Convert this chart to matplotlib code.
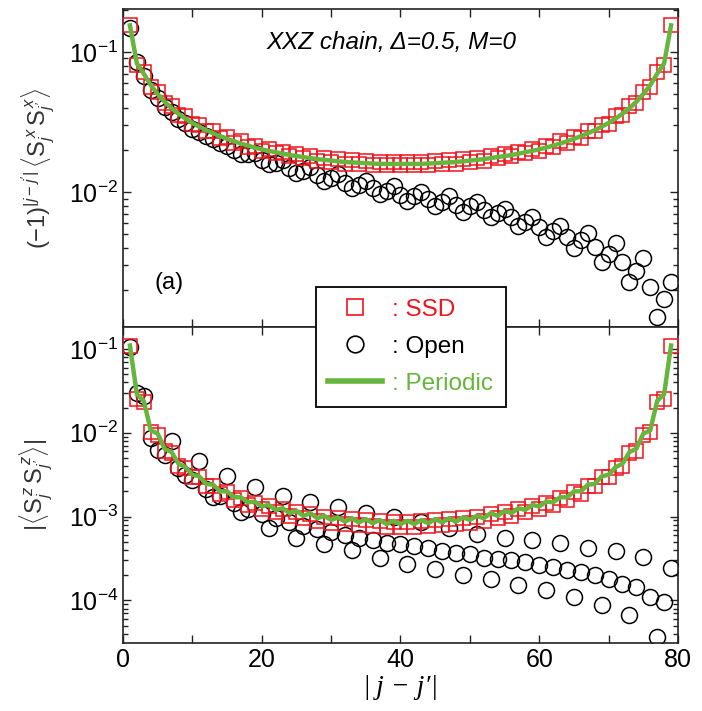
import matplotlib
matplotlib.use("Agg")
import matplotlib.pyplot as plt
from matplotlib.lines import Line2D
from matplotlib.ticker import LogLocator, MultipleLocator, NullFormatter

plt.rcParams["font.family"] = ["Liberation Sans", "DejaVu Sans"]
plt.rcParams["mathtext.fontset"] = "custom"
plt.rcParams["mathtext.rm"] = "Liberation Sans"
plt.rcParams["mathtext.it"] = "Liberation Sans:italic"

# distance |j - j'| on an L = 80 chain
r = list(range(1, 80))

# (-1)^|j-j'| <Sx_j Sx_j'>
sx_periodic = [0.155, 0.083, 0.0700, 0.0580, 0.0501, 0.0442, 0.0397, 0.0363, 0.0335, 0.0312,
               0.0293, 0.0277, 0.0263, 0.0251, 0.0240, 0.0231, 0.0222, 0.0215, 0.0208, 0.0202,
               0.0197, 0.0193, 0.0188, 0.0184, 0.0181, 0.0178, 0.0175, 0.0172, 0.0170, 0.0168,
               0.0166, 0.0164, 0.0163, 0.0162, 0.0161, 0.0160, 0.0159, 0.0159, 0.0159, 0.0159,
               0.0159, 0.0159, 0.0159, 0.0160, 0.0161, 0.0162, 0.0163, 0.0164, 0.0166, 0.0168,
               0.0170, 0.0172, 0.0175, 0.0178, 0.0181, 0.0184, 0.0188, 0.0193, 0.0197, 0.0202,
               0.0208, 0.0215, 0.0222, 0.0231, 0.0240, 0.0251, 0.0263, 0.0277, 0.0293, 0.0312,
               0.0335, 0.0363, 0.0397, 0.0442, 0.0501, 0.0580, 0.0700, 0.083, 0.155]
sx_ssd = [0.155, 0.081, 0.0725, 0.0567, 0.0519, 0.0432, 0.0411, 0.0355, 0.0347, 0.0305,
          0.0303, 0.0271, 0.0272, 0.0245, 0.0248, 0.0226, 0.0230, 0.0210, 0.0215, 0.0197,
          0.0204, 0.0189, 0.0195, 0.0180, 0.0187, 0.0174, 0.0181, 0.0168, 0.0176, 0.0164,
          0.0172, 0.0160, 0.0169, 0.0158, 0.0167, 0.0156, 0.0165, 0.0155, 0.0165, 0.0155,
          0.0165, 0.0155, 0.0165, 0.0156, 0.0167, 0.0158, 0.0169, 0.0160, 0.0172, 0.0164,
          0.0176, 0.0168, 0.0181, 0.0174, 0.0187, 0.0180, 0.0195, 0.0189, 0.0204, 0.0197,
          0.0215, 0.0210, 0.0230, 0.0226, 0.0248, 0.0245, 0.0272, 0.0271, 0.0303, 0.0305,
          0.0347, 0.0355, 0.0411, 0.0432, 0.0519, 0.0567, 0.0725, 0.081, 0.155]
sx_open = [0.148, 0.0851, 0.0676, 0.0537, 0.0468, 0.0407, 0.0372, 0.0331, 0.0309, 0.0282,
           0.0269, 0.0251, 0.0240, 0.0224, 0.0214, 0.0200, 0.0186, 0.0186, 0.0191, 0.0170,
           0.0158, 0.0162, 0.0170, 0.0148, 0.0138, 0.0141, 0.0151, 0.0132, 0.0120, 0.0126,
           0.0135, 0.0117, 0.0107, 0.0112, 0.0120, 0.0107, 9.77e-3, 1.02e-2, 1.10e-2, 9.55e-3,
           8.71e-3, 9.33e-3, 1.00e-2, 8.91e-3, 7.94e-3, 8.51e-3, 9.33e-3, 8.13e-3, 7.24e-3, 7.94e-3,
           8.51e-3, 7.41e-3, 6.61e-3, 7.08e-3, 7.59e-3, 6.61e-3, 5.75e-3, 6.17e-3, 6.61e-3, 5.62e-3,
           4.79e-3, 5.25e-3, 5.75e-3, 4.79e-3, 3.98e-3, 4.57e-3, 5.13e-3, 4.07e-3, 3.16e-3, 3.63e-3,
           4.37e-3, 3.16e-3, 2.29e-3, 2.75e-3, 3.39e-3, 2.09e-3, 1.29e-3, 1.74e-3, 2.29e-3]

# |<Sz_j Sz_j'>|
sz_periodic = [0.110, 0.0288, 0.0240, 0.0107, 9.77e-3, 6.46e-3, 5.89e-3, 4.27e-3, 3.89e-3, 3.16e-3,
               3.02e-3, 2.45e-3, 2.40e-3, 2.00e-3, 2.00e-3, 1.70e-3, 1.70e-3, 1.48e-3, 1.51e-3, 1.32e-3,
               1.38e-3, 1.20e-3, 1.26e-3, 1.10e-3, 1.17e-3, 1.02e-3, 1.10e-3, 9.55e-4, 1.02e-3, 9.12e-4,
               9.77e-4, 8.71e-4, 9.55e-4, 8.51e-4, 9.33e-4, 8.32e-4, 9.12e-4, 8.13e-4, 8.91e-4, 8.13e-4,
               8.91e-4, 8.13e-4, 9.12e-4, 8.32e-4, 9.33e-4, 8.51e-4, 9.55e-4, 8.71e-4, 9.77e-4, 9.12e-4,
               1.02e-3, 9.55e-4, 1.10e-3, 1.02e-3, 1.17e-3, 1.10e-3, 1.26e-3, 1.20e-3, 1.38e-3, 1.32e-3,
               1.51e-3, 1.48e-3, 1.70e-3, 1.70e-3, 2.00e-3, 2.00e-3, 2.40e-3, 2.45e-3, 3.02e-3, 3.16e-3,
               3.89e-3, 4.27e-3, 5.89e-3, 6.46e-3, 9.77e-3, 0.0107, 0.0240, 0.0288, 0.110]
sz_ssd = [0.109, 0.0250, 0.0234, 0.0103, 9.5e-3, 6.1e-3, 5.75e-3, 4.0e-3, 3.8e-3, 2.95e-3,
          2.95e-3, 2.29e-3, 2.34e-3, 1.87e-3, 1.95e-3, 1.59e-3, 1.66e-3, 1.38e-3, 1.47e-3, 1.23e-3,
          1.35e-3, 1.12e-3, 1.23e-3, 1.03e-3, 1.14e-3, 9.5e-4, 1.07e-3, 8.9e-4, 1.00e-3, 8.5e-4,
          9.5e-4, 8.1e-4, 9.3e-4, 7.9e-4, 9.1e-4, 7.8e-4, 8.9e-4, 7.6e-4, 8.7e-4, 7.6e-4,
          8.7e-4, 7.6e-4, 8.9e-4, 7.8e-4, 9.1e-4, 7.9e-4, 9.3e-4, 8.1e-4, 9.5e-4, 8.5e-4,
          1.00e-3, 8.9e-4, 1.07e-3, 9.5e-4, 1.14e-3, 1.03e-3, 1.23e-3, 1.12e-3, 1.35e-3, 1.23e-3,
          1.47e-3, 1.38e-3, 1.66e-3, 1.59e-3, 1.95e-3, 1.87e-3, 2.34e-3, 2.29e-3, 2.95e-3, 2.95e-3,
          3.8e-3, 4.0e-3, 5.75e-3, 6.1e-3, 9.5e-3, 0.0103, 0.0234, 0.0250, 0.109]
sz_open = [0.105, 0.0302, 0.0275, 8.71e-3, 6.31e-3, 5.50e-3, 7.94e-3, 3.80e-3, 3.16e-3, 2.75e-3,
           4.57e-3, 2.14e-3, 1.70e-3, 1.74e-3, 3.09e-3, 1.45e-3, 1.12e-3, 1.23e-3, 2.24e-3, 1.07e-3,
           7.41e-4, 9.55e-4, 1.78e-3, 8.51e-4, 5.62e-4, 7.76e-4, 1.48e-3, 7.08e-4, 4.68e-4, 6.46e-4,
           1.29e-3, 6.03e-4, 3.98e-4, 5.62e-4, 1.10e-3, 5.25e-4, 3.24e-4, 4.90e-4, 9.77e-4, 4.68e-4,
           2.75e-4, 4.47e-4, 8.51e-4, 4.27e-4, 2.40e-4, 3.89e-4, 7.24e-4, 3.63e-4, 2.00e-4, 3.55e-4,
           6.17e-4, 3.24e-4, 1.82e-4, 3.16e-4, 5.62e-4, 3.02e-4, 1.51e-4, 2.88e-4, 5.25e-4, 2.63e-4,
           1.32e-4, 2.51e-4, 4.90e-4, 2.29e-4, 1.10e-4, 2.19e-4, 4.27e-4, 2.00e-4, 8.71e-5, 1.82e-4,
           3.89e-4, 1.58e-4, 6.61e-5, 1.45e-4, 3.31e-4, 1.10e-4, 3.63e-5, 9.55e-5, 2.45e-4]

RED = "#f0141e"
GREEN = "#66b53c"

fig = plt.figure(figsize=(7.02, 7.11), dpi=100)
ax_top = fig.add_axes([0.1752, 0.5401, 0.7906, 0.4473])
ax_bot = fig.add_axes([0.1752, 0.0956, 0.7906, 0.4445])


def draw_panel(ax, ssd, opn, per):
    ax.plot(r, opn, ls="none", marker="o", ms=11.5, mfc="none", mec="black", mew=1.1, zorder=2)
    ax.plot(r, ssd, ls="none", marker="s", ms=10.5, mfc="none", mec=RED, mew=1.1, zorder=3)
    ax.plot(r, per, color=GREEN, lw=3.2, zorder=4)
    ax.set_yscale("log")
    ax.set_xlim(0, 80)
    ax.xaxis.set_major_locator(MultipleLocator(20))
    ax.xaxis.set_minor_locator(MultipleLocator(10))
    ax.yaxis.set_major_locator(LogLocator(base=10))
    ax.yaxis.set_minor_locator(LogLocator(base=10, subs=range(2, 10)))
    ax.yaxis.set_minor_formatter(NullFormatter())
    ax.tick_params(which="both", direction="in", top=True, right=True, width=1.0,
                   labelsize=18, color="#222222")
    ax.tick_params(which="major", length=6)
    ax.tick_params(which="minor", length=3.5)
    ax.tick_params(axis="x", which="minor", length=6)
    for s in ax.spines.values():
        s.set_linewidth(1.2)
        s.set_color("#222222")


draw_panel(ax_top, sx_ssd, sx_open, sx_periodic)
draw_panel(ax_bot, sz_ssd, sz_open, sz_periodic)

ax_top.set_ylim(1.09e-3, 0.203)
ax_bot.set_ylim(3.1e-5, 0.183)
ax_top.tick_params(axis="x", labelbottom=False)

ax_top.set_ylabel(r"$(-1)^{|j-j^{\prime}|}\,\langle \mathrm{S}^{\,x}_{j}\,\mathrm{S}^{\,x}_{j^{\prime}}\rangle$",
                  fontsize=17, color="#333333")
ax_top.yaxis.set_label_coords(-0.118, 0.5)
ax_bot.set_ylabel(r"$|\langle \mathrm{S}^{\,z}_{j}\,\mathrm{S}^{\,z}_{j^{\prime}}\rangle|$",
                  fontsize=17, color="#333333")
ax_bot.yaxis.set_label_coords(-0.125, 0.5)
ax_bot.set_xlabel("|\u2009j \u2212 j\u2032|", fontsize=20, family="Liberation Serif",
                  style="italic", labelpad=2)

ax_top.text(0.483, 0.893, "XXZ chain, \u0394=0.5, M=0", transform=ax_top.transAxes,
            ha="center", va="center", fontsize=17.5, style="italic")
ax_top.text(0.083, 0.138, "(a)", transform=ax_top.transAxes,
            ha="center", va="center", fontsize=17)

handles = [
    Line2D([], [], ls="none", marker="s", ms=12, mfc="none", mec=RED, mew=1.2),
    Line2D([], [], ls="none", marker="o", ms=12, mfc="none", mec="black", mew=1.2),
    Line2D([], [], color=GREEN, lw=4),
]
leg = fig.legend(handles, [": SSD", ": Open", ": Periodic"], loc="upper left",
                 bbox_to_anchor=(0.450, 0.597), fontsize=17.5, frameon=True, fancybox=False,
                 edgecolor="black", facecolor="white", framealpha=1.0, handlelength=2.2,
                 handletextpad=0.45, labelspacing=0.62, borderpad=0.5, borderaxespad=0)
leg.get_frame().set_linewidth(1.3)
for txt, col in zip(leg.get_texts(), [RED, "black", GREEN]):
    txt.set_color(col)

fig.savefig("out.png", dpi=100)
